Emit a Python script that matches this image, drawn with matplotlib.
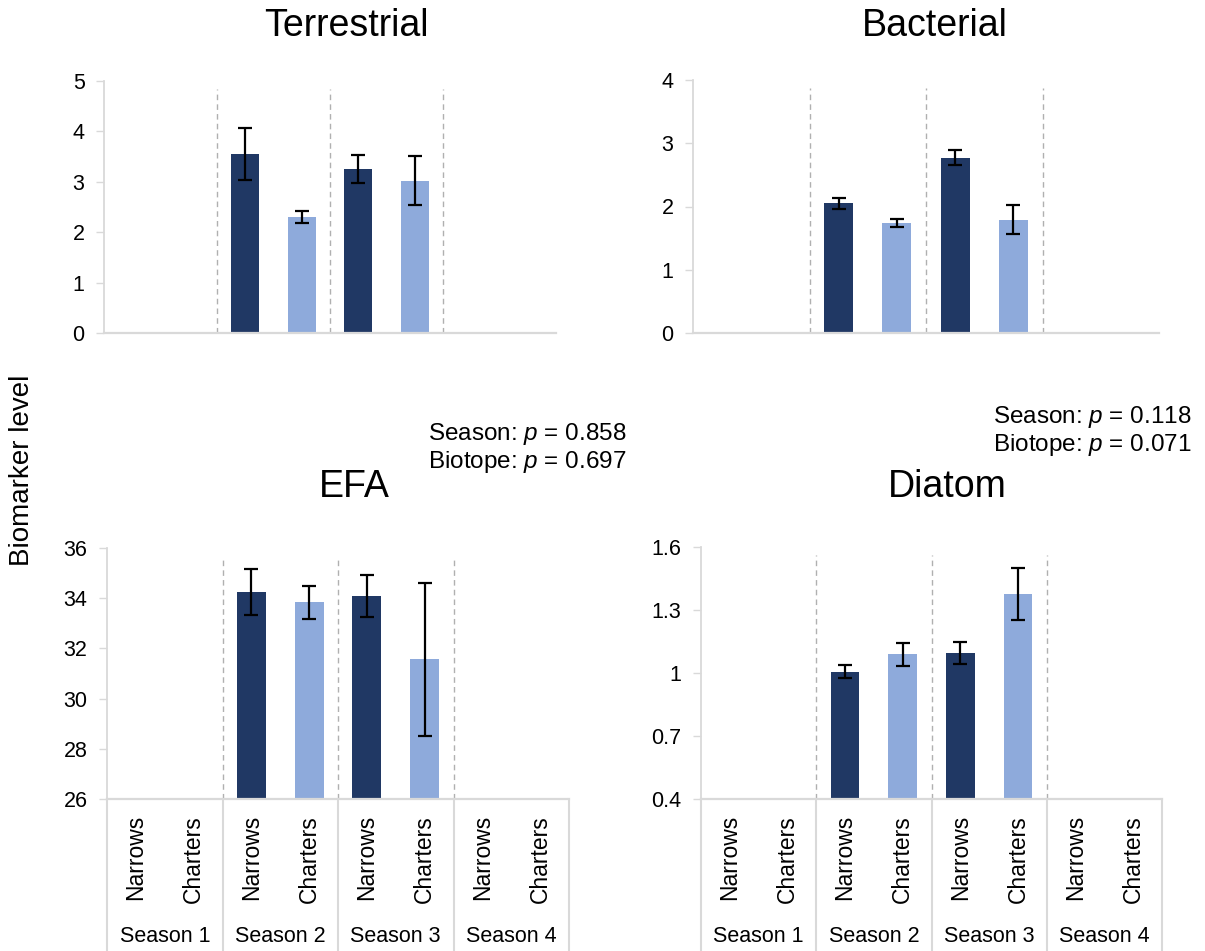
import numpy as np
import matplotlib
matplotlib.use("Agg")
import matplotlib.pyplot as plt
import matplotlib.transforms as mtransforms

plt.rcParams['font.family'] = ['Liberation Sans', 'DejaVu Sans']
plt.rcParams['mathtext.fontset'] = 'custom'
plt.rcParams['mathtext.rm'] = 'Liberation Sans'
plt.rcParams['mathtext.it'] = 'Liberation Sans:italic'

# data
seasons = ['Season 1', 'Season 2', 'Season 3', 'Season 4']
sites = ['Narrows', 'Charters']
nan = np.nan

terr_mean = [nan, nan, 3.55, 2.31, 3.25, 3.02, nan, nan]
terr_err = [nan, nan, 0.52, 0.12, 0.28, 0.49, nan, nan]
bact_mean = [nan, nan, 2.05, 1.74, 2.77, 1.79, nan, nan]
bact_err = [nan, nan, 0.09, 0.07, 0.12, 0.23, nan, nan]
efa_mean = [nan, nan, 34.25, 33.84, 34.10, 31.57, nan, nan]
efa_err = [nan, nan, 0.90, 0.65, 0.83, 3.05, nan, nan]
diat_mean = [nan, nan, 1.006, 1.089, 1.095, 1.377, nan, nan]
diat_err = [nan, nan, 0.030, 0.055, 0.053, 0.125, nan, nan]

titles = ['Terrestrial', 'Bacterial', 'EFA', 'Diatom']
p_left = 'Season: $p$ = 0.858\nBiotope: $p$ = 0.697'
p_right = 'Season: $p$ = 0.118\nBiotope: $p$ = 0.071'

dark = '#203864'
light = '#8eaadb'
grid_c = '#d9d9d9'
sep_c = '#b0b0b0'

W, H = 1205, 951
fig = plt.figure(figsize=(W / 100, H / 100), dpi=100)


def px_axes(x0, x1, ytop, ybot):
    return fig.add_axes([x0 / W, 1 - ybot / H, (x1 - x0) / W, (ybot - ytop) / H])


def draw_panel(ax, mean, err, ylim, yticks, yticklabels, bottom_labels):
    x = np.arange(8)
    colors = [dark if i % 2 == 0 else light for i in x]
    ax.bar(x, mean, width=0.5, color=colors, bottom=0)
    ax.errorbar(x, mean, yerr=err, fmt='none', ecolor='black', elinewidth=1.6,
                capsize=5, capthick=1.6)
    ax.set_xlim(-0.5, 7.5)
    ax.set_ylim(*ylim)
    ax.set_yticks(yticks)
    ax.set_yticklabels(yticklabels)
    ax.tick_params(axis='y', direction='out', length=6, width=1, color=grid_c,
                   labelsize=15.5, pad=8)
    ax.set_xticks([])
    for s in ['top', 'right']:
        ax.spines[s].set_visible(False)
    ax.spines['left'].set_color(grid_c)
    ax.spines['bottom'].set_color(grid_c)
    ax.spines['left'].set_linewidth(1.3)
    ax.spines['bottom'].set_linewidth(1.6)
    for xs in [1.5, 3.5, 5.5]:
        ax.axvline(xs, ymin=0, ymax=0.97, color=sep_c, lw=1, ls=(0, (4, 3)))
    if bottom_labels:
        tr = mtransforms.blended_transform_factory(ax.transData, fig.transFigure)
        ybot = ax.get_position().y0
        for xs in [-0.5, 1.5, 3.5, 5.5, 7.5]:
            ax.plot([xs, xs], [0, ybot], color=grid_c, lw=1.5, transform=tr,
                    clip_on=False)
        for i in range(8):
            ax.text(i, 1 - 815 / H, sites[i % 2], transform=tr, rotation=90,
                    ha='center', va='top', fontsize=16.5)
        for j, s in enumerate(seasons):
            ax.text(2 * j + 0.5, 1 - 936 / H, s, transform=tr, ha='center',
                    va='center', fontsize=15.5)


ax1 = px_axes(104, 556, 81, 333)
draw_panel(ax1, terr_mean, terr_err, (0, 5), range(6), [str(v) for v in range(6)], False)
ax2 = px_axes(693, 1159, 80, 333)
draw_panel(ax2, bact_mean, bact_err, (0, 4), range(5), [str(v) for v in range(5)], False)
ax3 = px_axes(107, 569, 548, 799)
draw_panel(ax3, efa_mean, efa_err, (26, 36), range(26, 37, 2),
           [str(v) for v in range(26, 37, 2)], True)
ax4 = px_axes(701, 1162, 547, 799)
draw_panel(ax4, diat_mean, diat_err, (0.4, 1.6), [0.4, 0.7, 1.0, 1.3, 1.6],
           ['0.4', '0.7', '1', '1.3', '1.6'], True)

# titles
fig.text(346 / W, 1 - 26 / H, titles[0], ha='center', va='center', fontsize=27)
fig.text(935 / W, 1 - 26 / H, titles[1], ha='center', va='center', fontsize=27)
fig.text(354 / W, 1 - 487 / H, titles[2], ha='center', va='center', fontsize=27)
fig.text(947 / W, 1 - 487 / H, titles[3], ha='center', va='center', fontsize=27)

# p-values
fig.text(428 / W, 1 - 448 / H, p_left, ha='left', va='center', fontsize=17.5,
         linespacing=1.15)
fig.text(993 / W, 1 - 431 / H, p_right, ha='left', va='center', fontsize=17.5,
         linespacing=1.15)

fig.text(22 / W, 1 - 470 / H, 'Biomarker level', rotation=90, ha='center',
         va='center', fontsize=20)

fig.savefig('out.png', dpi=100)
